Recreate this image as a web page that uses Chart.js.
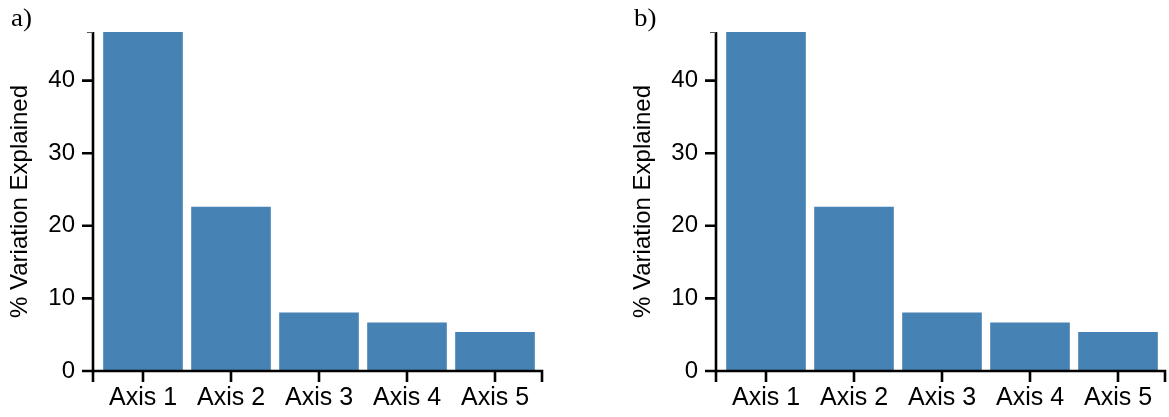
<!DOCTYPE html>
<html>
<head>
<meta charset="utf-8">
<script src="https://cdn.jsdelivr.net/npm/chart.js@4/dist/chart.umd.min.js"></script>
<style>
  html, body { margin: 0; padding: 0; background: #fff; }
  body { width: 1169px; height: 417px; position: relative; overflow: hidden; }
  .panel { position: absolute; top: 0; width: 560px; height: 417px; }
  .panel canvas { position: absolute; left: 0; top: 0; }
  .tag { position: absolute; left: 11px; top: 5px; font-family: 'Liberation Serif', 'Times New Roman', serif;
         font-size: 25px; line-height: 25px; color: #000; transform: scaleX(1.08); transform-origin: left top; }
</style>
</head>
<body>
<div class="panel" style="left:0px">
  <canvas id="chartA" width="560" height="417"></canvas>
  <div class="tag">a)</div>
</div>
<div class="panel" style="left:623px">
  <canvas id="chartB" width="560" height="417"></canvas>
  <div class="tag">b)</div>
</div>
<script>
// Ordination axes and the share of variation each one explains (%)
const categories = ['Axis 1', 'Axis 2', 'Axis 3', 'Axis 4', 'Axis 5'];
const variationA = [46.7, 22.64, 8.06, 6.68, 5.36];
const variationB = [46.7, 22.64, 8.06, 6.68, 5.36];
const yTicks = [0, 10, 20, 30, 40];
const yMax = 46.7;
const yTitle = '% Variation Explained';

const BAR_COLOR = '#4682B4';
const SANS = "'Liberation Sans', Arial, Helvetica, sans-serif";

// Prism-style frame: y axis offset left of the bars, x axis with ticks hanging down
const axisFrame = {
  id: 'axisFrame',
  afterDatasetsDraw(chart) {
    const { ctx, chartArea: a, scales: { x, y } } = chart;
    const ax = a.left - 6;
    const y0 = y.getPixelForValue(0);
    const yTop = y.getPixelForValue(yMax);
    const tick = 11;
    const xEnd = a.right + 3;
    ctx.save();
    ctx.strokeStyle = '#000';
    ctx.lineWidth = 2.6;
    ctx.beginPath();
    ctx.moveTo(ax, yTop);
    ctx.lineTo(ax, y0 + tick);
    y.ticks.forEach(t => {
      const py = y.getPixelForValue(t.value);
      ctx.moveTo(ax - tick, py);
      ctx.lineTo(ax, py);
    });
    ctx.moveTo(ax, y0);
    ctx.lineTo(xEnd, y0);
    ctx.lineTo(xEnd, y0 + tick);
    x.ticks.forEach((t, i) => {
      const px = x.getPixelForTick(i);
      ctx.moveTo(px, y0);
      ctx.lineTo(px, y0 + tick);
    });
    ctx.stroke();
    // small cap where the y axis ends
    ctx.lineWidth = 1;
    ctx.strokeStyle = '#555';
    ctx.beginPath();
    ctx.moveTo(ax - 6, yTop + 0.5);
    ctx.lineTo(ax, yTop + 0.5);
    ctx.stroke();
    ctx.restore();
  }
};

function makeChart(id, values) {
  return new Chart(document.getElementById(id), {
    type: 'bar',
    data: {
      labels: categories,
      datasets: [{
        data: values,
        backgroundColor: BAR_COLOR,
        borderWidth: 0,
        categoryPercentage: 1.0,
        barPercentage: 0.905
      }]
    },
    options: {
      responsive: false,
      animation: false,
      layout: { padding: { left: 0, right: 21, top: 32, bottom: 0 } },
      plugins: { legend: { display: false }, tooltip: { enabled: false } },
      scales: {
        x: {
          grid: { display: false, drawTicks: false },
          border: { display: false },
          ticks: { color: '#000', font: { family: SANS, size: 25 }, padding: 12, maxRotation: 0, autoSkip: false },
          afterFit(s) { s.height = 46; s.paddingLeft = 0; s.paddingRight = 0; }
        },
        y: {
          min: 0,
          max: yMax,
          grid: { display: false, drawTicks: false },
          border: { display: false },
          afterBuildTicks(s) { s.ticks = yTicks.map(v => ({ value: v })); },
          ticks: { color: '#000', font: { family: SANS, size: 24 }, padding: 24 },
          title: {
            display: true,
            text: yTitle,
            color: '#000',
            font: { family: SANS, size: 24 },
            padding: { top: 6, bottom: 0 }
          },
          afterFit(s) { s.width = 99; s.paddingTop = 0; s.paddingBottom = 0; }
        }
      }
    },
    plugins: [axisFrame]
  });
}

makeChart('chartA', variationA);
makeChart('chartB', variationB);
</script>
</body>
</html>
